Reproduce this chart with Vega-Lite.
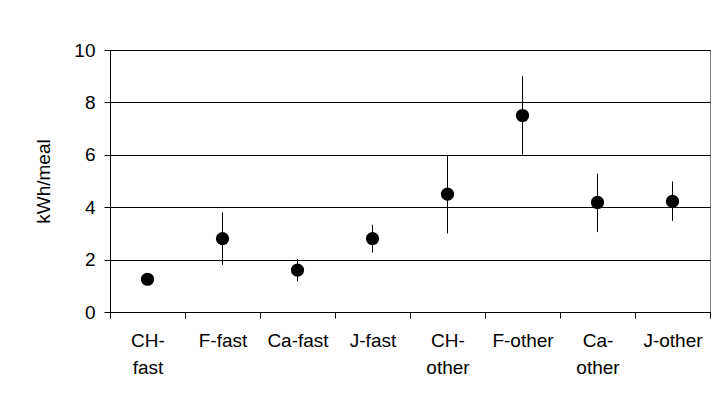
{
  "$schema": "https://vega.github.io/schema/vega-lite/v6.json",
  "width": 600,
  "height": 262,
  "autosize": "none",
  "padding": {"left": 110, "top": 50, "right": 18, "bottom": 96},
  "background": "white",
  "config": {
    "font": "Liberation Sans",
    "view": {"stroke": "#808080", "strokeWidth": 1},
    "axis": {"labelFont": "Liberation Sans", "titleFont": "Liberation Sans", "labelColor": "#000", "titleColor": "#000"}
  },
  "data": {
    "values": [
      {"cat": "CH-fast", "v": 1.25, "lo": 1.1, "hi": 1.4},
      {"cat": "F-fast", "v": 2.8, "lo": 1.8, "hi": 3.8},
      {"cat": "Ca-fast", "v": 1.6, "lo": 1.17, "hi": 2.03},
      {"cat": "J-fast", "v": 2.8, "lo": 2.27, "hi": 3.33},
      {"cat": "CH-other", "v": 4.5, "lo": 3.0, "hi": 6.0},
      {"cat": "F-other", "v": 7.5, "lo": 6.0, "hi": 9.0},
      {"cat": "Ca-other", "v": 4.18, "lo": 3.05, "hi": 5.28},
      {"cat": "J-other", "v": 4.22, "lo": 3.48, "hi": 4.98}
    ]
  },
  "encoding": {
    "x": {
      "field": "cat", "type": "nominal", "sort": null,
      "scale": {"paddingInner": 0, "paddingOuter": 0},
      "axis": {
        "title": null, "labelAngle": 0, "labelFontSize": 19, "labelPadding": 13,
        "labelLineHeight": 27, "labelBaseline": "top",
        "labelExpr": "datum.value == 'CH-fast' ? ['CH-', 'fast'] : datum.value == 'CH-other' ? ['CH-', 'other'] : datum.value == 'Ca-other' ? ['Ca-', 'other'] : datum.value",
        "domainColor": "#000", "domainWidth": 1,
        "tickColor": "#000", "tickSize": 6, "tickBand": "extent", "tickWidth": 1,
        "grid": false
      }
    }
  },
  "layer": [
    {
      "mark": {"type": "rule", "color": "#000", "strokeWidth": 1},
      "encoding": {
        "y": {"field": "lo", "type": "quantitative"},
        "y2": {"field": "hi"}
      }
    },
    {
      "mark": {"type": "point", "shape": "circle", "filled": true, "color": "#000", "opacity": 1, "size": 175},
      "encoding": {
        "y": {
          "field": "v", "type": "quantitative",
          "scale": {"domain": [0, 10], "nice": false},
          "axis": {
            "title": "kWh/meal", "titleFontSize": 19, "titleFontWeight": "normal", "titlePadding": 20,
            "labelFontSize": 19, "labelPadding": 9,
            "values": [0, 2, 4, 6, 8, 10],
            "domainColor": "#000", "tickColor": "#000", "tickSize": 6,
            "grid": true, "gridColor": "#000", "gridOpacity": 1, "gridWidth": 1
          }
        }
      }
    }
  ]
}
